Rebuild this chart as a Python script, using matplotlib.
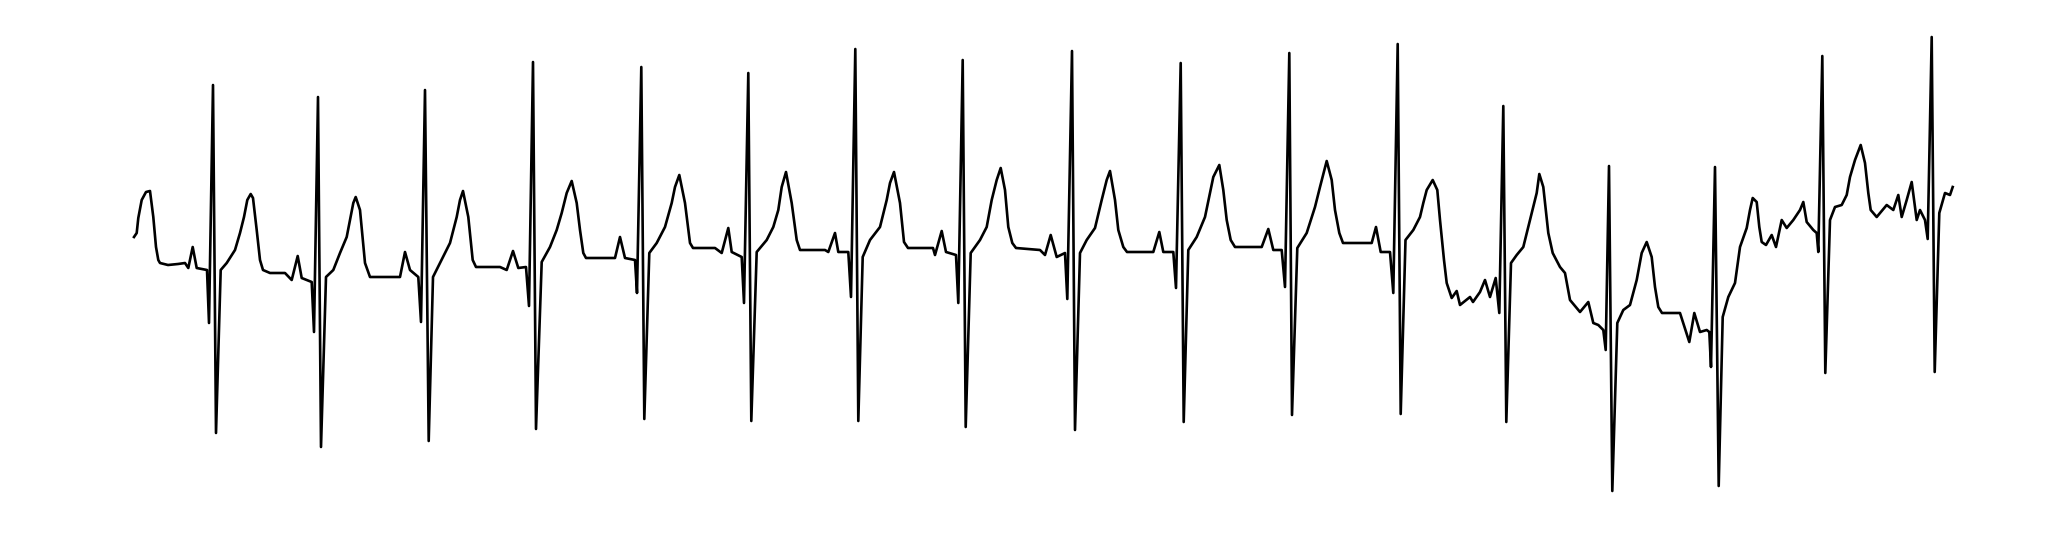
import matplotlib
matplotlib.use("Agg")
import matplotlib.pyplot as plt
import numpy as np

FS = 182.0  # samples per second

# ECG trace: (sample index, amplitude in 10 uV units)
beat00 = [(1, 33), (3.7, 37), (5.3, 52), (8.7, 70), (13, 78), (17, 79), (20.3, 53), (23, 23),
          (25.3, 10), (27, 7), (35, 5), (45, 6), (52, 7), (55.3, 2), (59.7, 23), (63.7, 2), (74, 0),
          (76, -53), (80, 185), (83, -163), (87.7, 0)]
beat01 = [(93.7, 7), (102, 20), (107, 37), (111, 53), (114.3, 70), (117.7, 76), (120, 72),
          (123.7, 40), (127, 10), (130, 0), (137, -3), (152, -3), (158.7, -10), (164.7, 14),
          (168.7, -8), (178.7, -12), (181, -62), (185, 173), (188, -177), (193, -7)]
beat02 = [(200.3, 0), (207, 17), (213.7, 33), (217, 50), (220.3, 67), (222.7, 73), (227, 60),
          (232, 7), (237, -7), (267, -7), (272, 18), (277, 0), (285.3, -7), (288, -52),
          (292, 180), (295.7, -171), (300, -7)]
beat03 = [(307, 7), (317, 27), (323.7, 53), (327, 70), (330, 79), (335.3, 53), (339.7, 10),
          (343, 3), (367, 3), (373.7, 0), (380, 19), (385.3, 2), (393, 3), (396, -36),
          (400, 208), (403, -159), (408.7, 8)]
beat04 = [(417, 23), (423.7, 40), (428.7, 57), (433.7, 77), (438.7, 89), (443.7, 67), (447, 40),
          (450.3, 17), (453, 12), (482, 12), (487, 33), (492, 12), (502, 10), (504, -23),
          (508.3, 203), (511.3, -149), (516.3, 17)]
beat05 = [(523.7, 27), (532, 43), (538.7, 67), (542, 83), (546.3, 95), (552, 67), (557, 27),
          (560, 22), (582, 22), (588.7, 17), (595.3, 42), (598.7, 18), (608.7, 13), (611, -33),
          (615.3, 197), (618.3, -151), (623.7, 18)]
beat06 = [(633.7, 30), (640.3, 43), (645.3, 60), (648.7, 83), (653, 98), (658.7, 67), (663.7, 30),
          (667, 20), (692, 20), (695.3, 18), (702, 37), (705.3, 18), (715.3, 18), (718, -27),
          (722.3, 221), (725.3, -151), (729.7, 13)]
beat07 = [(737, 30), (747, 43), (753.7, 70), (757, 87), (761, 98), (767, 67), (771, 28),
          (775, 22), (800, 22), (802, 15), (808.7, 39), (813, 18), (823, 15), (825.3, -33),
          (829.7, 210), (832.7, -157), (837.7, 17)]
beat08 = [(847, 30), (853.7, 43), (858.7, 70), (863.7, 90), (867.7, 102), (872, 80), (875.3, 43),
          (879.3, 27), (883, 22), (907, 20), (912, 15), (917.7, 35), (923.7, 13), (932, 17),
          (934.3, -29), (939, 219), (942, -160), (947, 17)]
beat09 = [(953.7, 30), (962, 42), (968.7, 70), (973.7, 90), (977, 99), (982, 70), (985.3, 40),
          (990.3, 23), (994, 18), (1020.3, 18), (1026.3, 38), (1030.3, 18), (1040.3, 18),
          (1043, -18), (1047.7, 207), (1050.7, -152), (1055.3, 20)]
beat10 = [(1063.7, 33), (1072, 53), (1080.3, 93), (1086.3, 105), (1090.3, 80), (1093.7, 50),
          (1097.7, 30), (1102, 23), (1128.7, 23), (1135.3, 41), (1140.3, 20), (1148.7, 20),
          (1152, -17), (1156.3, 217), (1159, -145), (1164.3, 22)]
beat11 = [(1173.7, 37), (1182, 63), (1187, 83), (1193.7, 109), (1198.7, 90), (1202, 60),
          (1206.3, 37), (1210, 27), (1238.7, 27), (1243, 43), (1247.7, 18), (1257, 18),
          (1260.3, -23), (1264.7, 226), (1267.7, -144), (1272.5, 30)]
beat12 = [(1280.3, 40), (1287, 53), (1290.3, 67), (1293.7, 80), (1299.7, 90), (1304.3, 80),
          (1307, 50), (1311, 10), (1313.7, -13), (1318.7, -28), (1323.7, -21), (1327, -35),
          (1337, -27), (1340, -32), (1347, -22), (1352, -10), (1357, -27), (1362.7, -8),
          (1366.3, -43), (1370.3, 164), (1373.3, -152), (1378, 7)]
beat13 = [(1383.7, 15), (1390.3, 23), (1395.3, 43), (1400.3, 63), (1403.7, 77), (1406.3, 96),
          (1410.3, 83), (1415.3, 37), (1419.7, 17), (1427, 3), (1432, -3), (1437, -30),
          (1447, -42), (1455.3, -32), (1460.3, -53), (1465.3, -55), (1470.3, -60),
          (1472.7, -80), (1476, 104), (1479.3, -221), (1484.3, -53)]
beat14 = [(1490.3, -40), (1497, -35), (1503.7, -10), (1508.7, 17), (1513.7, 28), (1518.7, 13),
          (1522, -17), (1525.3, -37), (1529, -43), (1547, -43), (1556.3, -72), (1561.3, -43),
          (1567, -62), (1573.7, -60), (1576.3, -62), (1578, -97), (1582, 103), (1585.7, -216),
          (1589.7, -47)]
beat15 = [(1595.3, -27), (1602, -13), (1607, 23), (1613.7, 42), (1617, 60), (1619.7, 72),
          (1623.7, 68), (1626.3, 43), (1628.7, 28), (1633, 25), (1638.7, 35), (1643, 23),
          (1648.7, 50), (1653.7, 42), (1660.3, 50), (1667, 60), (1670.3, 68), (1673.7, 48),
          (1680.3, 40), (1683.7, 37), (1685.3, 18), (1689.3, 214), (1692.3, -103), (1697, 50)]
beat16 = [(1702, 63), (1708.7, 65), (1713.7, 75), (1717, 93), (1722, 110), (1727.7, 125),
          (1732, 107), (1735.3, 77), (1737.7, 60), (1743.7, 53), (1753.7, 65), (1760.3, 60),
          (1765.3, 75), (1768.7, 53), (1773.7, 70), (1778.7, 88), (1783.7, 50), (1787, 60),
          (1792, 50), (1794.7, 31), (1798.7, 233), (1801.7, -102), (1806.3, 57), (1812, 77),
          (1817, 75), (1819.7, 83)]

beats = [beat00, beat01, beat02, beat03, beat04, beat05, beat06, beat07, beat08,
         beat09, beat10, beat11, beat12, beat13, beat14, beat15, beat16]

pts = np.array([p for b in beats for p in b], dtype=float)
t = pts[:, 0] / FS
mv = pts[:, 1] * 0.01

fig = plt.figure(figsize=(20.46, 5.38), dpi=100)
ax = fig.add_axes([0, 0, 1, 1])
ax.plot(t, mv, color="black", linewidth=1.9, solid_joinstyle="round")
ax.set_xlim(-133 / FS, (2046 - 133) / FS)
ax.set_ylim(-2.68, 2.70)
ax.axis("off")
fig.savefig("out.png", dpi=100, facecolor="white")
